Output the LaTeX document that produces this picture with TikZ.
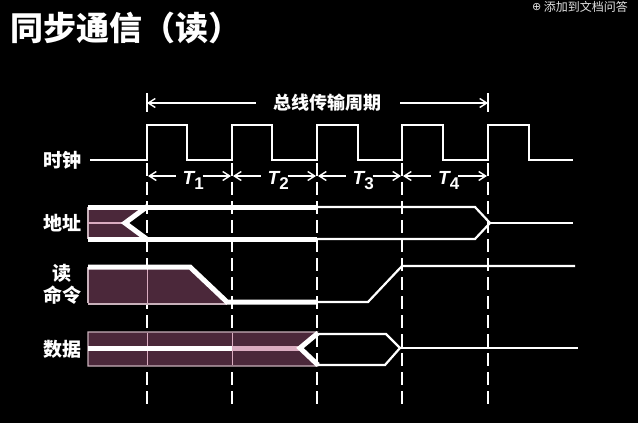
\documentclass[tikz,border=0pt]{standalone}
\usepackage{fontspec}
\setmainfont{Liberation Sans}
\newfontfamily\cjk{Noto Sans CJK SC}
\newfontfamily\dejavu{DejaVu Sans}
\usetikzlibrary{arrows.meta}
\definecolor{busfill}{RGB}{75,40,58}
\definecolor{pinkline}{RGB}{218,172,192}
\definecolor{boxedge}{RGB}{200,176,186}
\definecolor{uigray}{RGB}{225,225,225}
\tikzset{
  sig/.style={white, line width=2.2pt, line join=miter},
  thick sig/.style={white, line width=5pt, line join=miter},
  grid dash/.style={white, line width=2.5pt, dash pattern=on 13pt off 6pt},
  meas/.style={white, line width=1.4pt, -{Straight Barb[length=7pt,width=9pt]}},
  lbl/.style={text=white, font=\cjk\bfseries\fontsize{19}{19}\selectfont, inner sep=0pt},
  tlbl/.style={text=white, font=\bfseries\itshape\fontsize{19}{19}\selectfont, inner sep=0pt, anchor=base},
  busfillst/.style={fill=busfill, draw=boxedge, line width=1.2pt},
}
\begin{document}
\begin{tikzpicture}[x=1pt,y=-1pt]
\fill[black] (0,0) rectangle (638,423);
\useasboundingbox (0,0) rectangle (638,423);

% title and UI text
\node[text=white, font=\cjk\bfseries\fontsize{33}{33}\selectfont, anchor=west, inner sep=0pt] (title) at (10,28) {同步通信（读）};
\node[text=uigray, font=\cjk\fontsize{12}{12}\selectfont, anchor=east, inner sep=0pt] (ui) at (628,7) {添加到文档问答};
\node[text=uigray, font=\dejavu\fontsize{11}{12}\selectfont, anchor=east, inner sep=0pt] (uiicon) at ([xshift=-2pt]ui.west) {⊕};

% row labels
\node[lbl] (clk) at (62,160) {时钟};
\node[lbl] (addr) at (62,223) {地址};
\node[lbl] (rd) at (62,273) {读};
\node[lbl] (cmd) at (62,295) {命令};
\node[lbl] (data) at (62,349) {数据};

% edge coordinates
\foreach \n/\x in {e0/147,e1/232,e2/317,e3/402,e4/488}{
  \coordinate (\n top) at (\x,163);
  \coordinate (\n bot) at (\x,404);
}

% dashed grid lines
\foreach \n in {e0,e1,e2,e3,e4}{
  \draw[grid dash] (\n top) -- (\n bot);
}

% clock
\draw[sig, line width=2.6pt] (90,160) -- (147,160) -- (147,125) -- (187,125) -- (187,160)
  -- (232,160) -- (232,125) -- (272,125) -- (272,160)
  -- (317,160) -- (317,125) -- (358,125) -- (358,160)
  -- (402,160) -- (402,125) -- (443,125) -- (443,160)
  -- (488,160) -- (488,125) -- (529,125) -- (529,160) -- (573,160);

% bus period
\node[text=white, font=\cjk\bfseries\fontsize{18}{18}\selectfont, inner sep=0pt] (bus) at (327,103) {总线传输周期};
\coordinate (bl) at (147,103);
\coordinate (br) at (488,103);
\draw[white, line width=1.5pt] (147,93) -- (147,112);
\draw[white, line width=1.5pt] (488,93) -- (488,112);
\draw[meas] ([xshift=-17pt]bus.west) -- (bl);
\draw[meas] ([xshift=19pt]bus.east) -- (br);

% T measures
\foreach \a/\b/\i in {147/232/1,232/317/2,317/402/3,402/488/4}{
  \pgfmathsetmacro{\c}{(\a+\b)/2}
  \node[tlbl] (T\i) at (\c+4,184) {T\textsubscript{\upshape\fontsize{17}{17}\selectfont\i}};
  \coordinate (Ta\i) at (\a+1,176);
  \coordinate (Tb\i) at (\b-1,176);
  \draw[meas] (\c-14,176) -- (Ta\i);
  \draw[meas] (\c+13,176) -- (Tb\i);
}

% address bus
\fill[busfill] (88,207) -- (146,207) -- (125,223) -- (146,239) -- (88,239) -- cycle;
\draw[boxedge, line width=1.2pt] (88,207) -- (88,239);
\draw[pinkline, line width=2pt] (88,223) -- (125,223);
\draw[thick sig] (88,207) -- (317,207);
\draw[thick sig] (88,239) -- (317,239);
\draw[thick sig] (148,206) -- (125,223) -- (148,240);
\draw[sig] (316,207) -- (475,207) -- (490,223) -- (475,239) -- (316,239);
\draw[sig] (490,223) -- (573,223);

% read command
\fill[busfill] (88,267) -- (190,267) -- (227,303) -- (88,303) -- cycle;
\draw[boxedge, line width=1.2pt] (88,303) -- (88,267);
\draw[boxedge, line width=1.2pt] (88,304) -- (227,304);
\draw[pinkline, line width=1pt] (147,268) -- (147,303);
\draw[thick sig] (88,267) -- (190,267) -- (227,302) -- (317,302);
\draw[sig] (316,302) -- (368,302) -- (402,266) -- (575,266);

% data bus
\filldraw[busfillst] (88,332) -- (317,332) -- (300,348) -- (317,366) -- (88,366) -- cycle;
\draw[pinkline, line width=1pt] (147,333) -- (147,365);
\draw[pinkline, line width=1pt] (232,333) -- (232,365);
\draw[white, line width=5pt] (88,348) -- (232,348);
\draw[pinkline, line width=5pt] (232,348) -- (300,348);
\draw[thick sig] (318,333) -- (300,348) -- (318,365);
\draw[sig] (317,334) -- (386,334) -- (400,348) -- (385,365) -- (317,365);
\draw[sig] (400,348) -- (578,348);
\end{tikzpicture}
\end{document}
